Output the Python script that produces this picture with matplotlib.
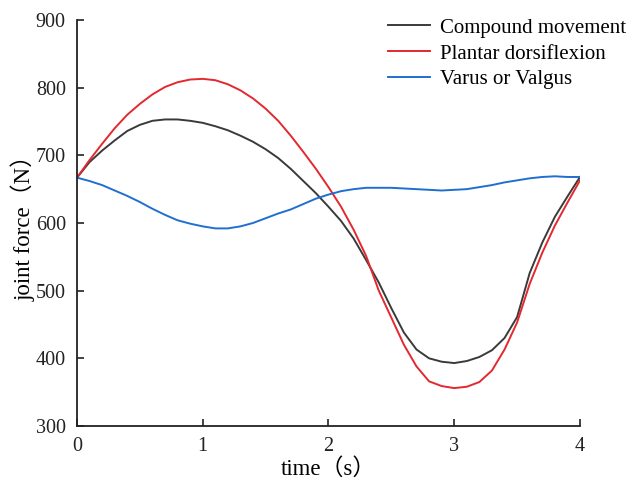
import matplotlib
matplotlib.use("Agg")
import matplotlib.pyplot as plt

plt.rcParams['font.family'] = ['Liberation Serif', 'Noto Sans CJK SC', 'DejaVu Sans']

time = [0.0, 0.1, 0.2, 0.3, 0.4, 0.5, 0.6, 0.7, 0.8, 0.9, 1.0, 1.1, 1.2, 1.3, 1.4,
        1.5, 1.6, 1.7, 1.8, 1.9, 2.0, 2.1, 2.2, 2.3, 2.4, 2.5, 2.6, 2.7, 2.8, 2.9,
        3.0, 3.1, 3.2, 3.3, 3.4, 3.5, 3.6, 3.7, 3.8, 3.9, 4.0]

compound = [667, 690, 707, 722, 736, 745, 751, 753, 753, 751, 748, 743, 737, 729, 720,
            709, 696, 680, 662, 644, 624, 603, 577, 545, 512, 474, 438, 413, 400, 395,
            393, 396, 402, 412, 430, 461, 526, 571, 609, 639, 668]

plantar = [667, 693, 717, 740, 760, 776, 790, 801, 808, 812, 813, 811, 805, 796, 784,
           769, 751, 729, 705, 680, 653, 624, 590, 551, 500, 460, 420, 388, 366, 359,
           356, 358, 365, 382, 413, 453, 510, 556, 596, 630, 663]

varus = [667, 662, 656, 648, 640, 631, 621, 612, 604, 599, 595, 592, 592, 595, 600,
         607, 614, 620, 628, 636, 642, 647, 650, 652, 652, 652, 651, 650, 649, 648,
         649, 650, 653, 656, 660, 663, 666, 668, 669, 668, 668]

labels = ['Compound movement', 'Plantar dorsiflexion', 'Varus or Valgus']
colors = ['#3a3a3a', '#e3282f', '#1f6fd2']

fig = plt.figure(figsize=(6.32, 4.78), dpi=100)
ax = fig.add_axes([0.1218, 0.1088, 0.7959, 0.8494])

for series, lab, col in zip([compound, plantar, varus], labels, colors):
    ax.plot(time, series, color=col, lw=1.4, label=lab)

ax.set_xlim(0, 4)
ax.set_ylim(300, 900)
ax.set_xticks([0, 1, 2, 3, 4])
ax.set_yticks([300, 400, 500, 600, 700, 800, 900])
ax.tick_params(direction='in', length=5, width=1.2, labelsize=14.5, colors='#222222')
ax.tick_params(axis='y', pad=8)
ax.tick_params(axis='x', pad=8)
for s in ['top', 'right']:
    ax.spines[s].set_visible(False)
for s in ['left', 'bottom']:
    ax.spines[s].set_linewidth(1.3)
    ax.spines[s].set_color('#222222')

ax.set_xlabel('time（s）', fontsize=16.5, labelpad=1)
ax.set_ylabel('joint force（N）', fontsize=16.5, labelpad=0)

ax.legend(loc='upper left', bbox_to_anchor=(0.614, 0.962), bbox_transform=fig.transFigure,
          frameon=False, fontsize=15, handlelength=2.0, handletextpad=0.5,
          labelspacing=0.3, borderaxespad=0, borderpad=0)

fig.savefig('out.png', dpi=100)
